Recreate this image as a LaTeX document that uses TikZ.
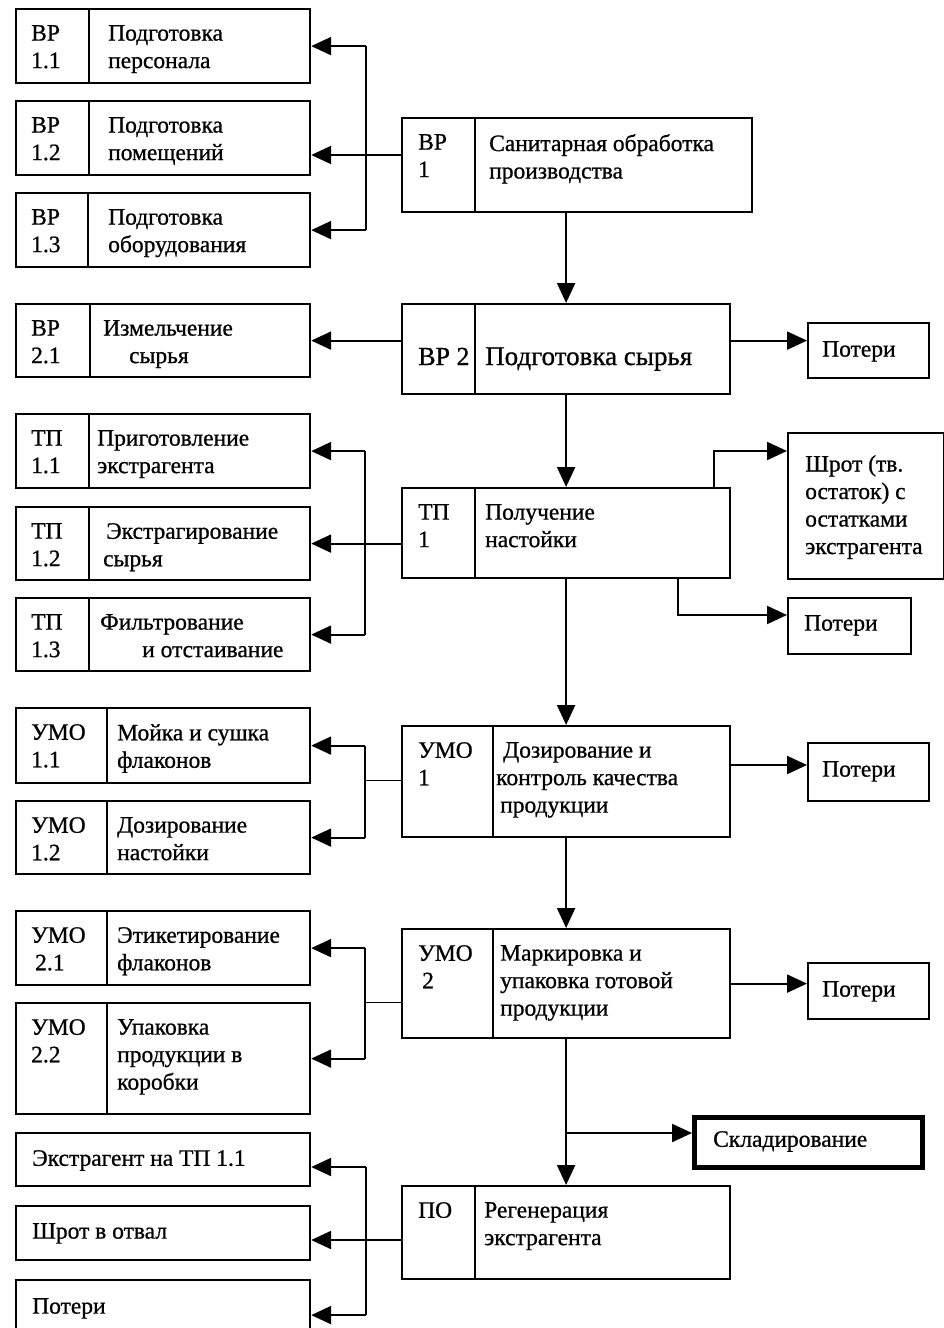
\documentclass[tikz,border=0pt]{standalone}
\usepackage{fontspec}
\setmainfont{Liberation Serif}[FakeBold=0.8]
\usetikzlibrary{arrows.meta}

\tikzset{
  blk/.style={draw, line width=2.2pt, inner sep=0pt, anchor=north west},
  sepline/.style={line width=1.6pt},
  txt/.style={inner sep=0pt, anchor=north west, align=left, font=\fontsize{23.5}{27.5}\selectfont},
  arr/.style={line width=2.2pt, -{Triangle[length=20pt,width=18pt]}},
  link/.style={line width=2.2pt},
  thinlink/.style={line width=1pt}
}

\begin{document}
\begin{tikzpicture}[x=1pt, y=-1pt]
\useasboundingbox (0,0) rectangle (944,1328);

% ВР 1 group
\node[blk, minimum width=294, minimum height=74] (bp11) at (15,8) {};
\draw[sepline] ([xshift=74pt]bp11.north west) -- ([xshift=74pt]bp11.south west);
\node[txt] (bp11-c) at (31,25) {ВР\\1.1};
\node[txt] (bp11-t) at (108,25) {Подготовка\\персонала};

\node[blk, minimum width=294, minimum height=74] (bp12) at (15,100) {};
\draw[sepline] ([xshift=74pt]bp12.north west) -- ([xshift=74pt]bp12.south west);
\node[txt] (bp12-c) at (31,117) {ВР\\1.2};
\node[txt] (bp12-t) at (108,117) {Подготовка\\помещений};

\node[blk, minimum width=294, minimum height=74] (bp13) at (15,192) {};
\draw[sepline] ([xshift=73pt]bp13.north west) -- ([xshift=73pt]bp13.south west);
\node[txt] (bp13-c) at (31,209) {ВР\\1.3};
\node[txt] (bp13-t) at (108,209) {Подготовка\\оборудования};

\node[blk, minimum width=350, minimum height=94] (bp1) at (401,117) {};
\draw[sepline] ([xshift=74pt]bp1.north west) -- ([xshift=74pt]bp1.south west);
\node[txt] (bp1-c) at (418,134) {ВР\\1};
\node[txt] (bp1-t) at (489,134) {Санитарная обработка\\производства};

% ВР 2 group
\node[blk, minimum width=294, minimum height=73] (bp21) at (15,303) {};
\draw[sepline] ([xshift=75pt]bp21.north west) -- ([xshift=75pt]bp21.south west);
\node[txt] (bp21-c) at (31,320) {ВР\\2.1};
\node[txt] (bp21-t) at (103,320) {Измельчение\\\hspace*{26pt}сырья};

\node[blk, minimum width=328, minimum height=90] (bp2) at (401,303) {};
\draw[sepline] ([xshift=74pt]bp2.north west) -- ([xshift=74pt]bp2.south west);
\node[txt, anchor=base west, font=\fontsize{26}{30}\selectfont] (bp2-c) at (418,365) {ВР 2};
\node[txt, anchor=base west, font=\fontsize{27}{30}\selectfont] (bp2-t) at (485,365) {Подготовка сырья};

\node[blk, minimum width=121, minimum height=55] (los2) at (807,322) {};
\node[txt] (los2-t) at (822,341) {Потери};

% ТП 1 group
\node[blk, minimum width=294, minimum height=74] (tp11) at (15,413) {};
\draw[sepline] ([xshift=74pt]tp11.north west) -- ([xshift=74pt]tp11.south west);
\node[txt] (tp11-c) at (31,430) {ТП\\1.1};
\node[txt] (tp11-t) at (97,430) {Приготовление\\экстрагента};

\node[blk, minimum width=294, minimum height=73] (tp12) at (15,506) {};
\draw[sepline] ([xshift=74pt]tp12.north west) -- ([xshift=74pt]tp12.south west);
\node[txt] (tp12-c) at (31,523) {ТП\\1.2};
\node[txt] (tp12-t) at (103,523) {\hspace*{3pt}Экстрагирование\\сырья};

\node[blk, minimum width=294, minimum height=73] (tp13) at (15,597) {};
\draw[sepline] ([xshift=74pt]tp13.north west) -- ([xshift=74pt]tp13.south west);
\node[txt] (tp13-c) at (31,614) {ТП\\1.3};
\node[txt] (tp13-t) at (100,614) {Фильтрование\\\hspace*{42pt}и отстаивание};

\node[blk, minimum width=328, minimum height=90] (tp1) at (401,487) {};
\draw[sepline] ([xshift=74pt]tp1.north west) -- ([xshift=74pt]tp1.south west);
\node[txt] (tp1-c) at (418,504) {ТП\\1};
\node[txt] (tp1-t) at (485,504) {Получение\\настойки};

\node[blk, minimum width=156, minimum height=146] (shrot) at (787,432) {};
\node[txt] (shrot-t) at (805,455) {Шрот (тв.\\остаток) с\\остатками\\экстрагента};

\node[blk, minimum width=123, minimum height=56] (los1) at (787,597) {};
\node[txt] (los1-t) at (804,615) {Потери};

% УМО 1 group
\node[blk, minimum width=294, minimum height=75] (umo11) at (15,707) {};
\draw[sepline] ([xshift=92pt]umo11.north west) -- ([xshift=92pt]umo11.south west);
\node[txt] (umo11-c) at (31,724) {УМО\\1.1};
\node[txt] (umo11-t) at (117,724) {Мойка и сушка\\флаконов};

\node[blk, minimum width=294, minimum height=73] (umo12) at (15,800) {};
\draw[sepline] ([xshift=92pt]umo12.north west) -- ([xshift=92pt]umo12.south west);
\node[txt] (umo12-c) at (31,817) {УМО\\1.2};
\node[txt] (umo12-t) at (117,817) {Дозирование\\настойки};

\node[blk, minimum width=328, minimum height=111] (umo1) at (401,725) {};
\draw[sepline] ([xshift=92pt]umo1.north west) -- ([xshift=92pt]umo1.south west);
\node[txt] (umo1-c) at (418,742) {УМО\\1};
\node[txt] (umo1-t) at (496,742) {\hspace*{7pt}Дозирование и\\контроль качества\\\hspace*{4pt}продукции};

\node[blk, minimum width=121, minimum height=58] (los3) at (807,742) {};
\node[txt] (los3-t) at (822,761) {Потери};

% УМО 2 group
\node[blk, minimum width=294, minimum height=74] (umo21) at (15,910) {};
\draw[sepline] ([xshift=92pt]umo21.north west) -- ([xshift=92pt]umo21.south west);
\node[txt] (umo21-c) at (31,927) {УМО\\\hspace*{4pt}2.1};
\node[txt] (umo21-t) at (117,927) {Этикетирование\\флаконов};

\node[blk, minimum width=294, minimum height=111] (umo22) at (15,1002) {};
\draw[sepline] ([xshift=92pt]umo22.north west) -- ([xshift=92pt]umo22.south west);
\node[txt] (umo22-c) at (31,1019) {УМО\\2.2};
\node[txt] (umo22-t) at (117,1019) {Упаковка\\продукции в\\коробки};

\node[blk, minimum width=328, minimum height=109] (umo2) at (401,928) {};
\draw[sepline] ([xshift=92pt]umo2.north west) -- ([xshift=92pt]umo2.south west);
\node[txt] (umo2-c) at (418,945) {УМО\\\hspace*{4pt}2};
\node[txt] (umo2-t) at (500,945) {Маркировка и\\упаковка готовой\\продукции};

\node[blk, minimum width=121, minimum height=56] (los4) at (807,962) {};
\node[txt] (los4-t) at (822,981) {Потери};

% storage
\node[blk, line width=5pt, minimum width=228, minimum height=50] (sklad) at (692,1115) {};
\node[txt] (sklad-t) at (713,1131) {Складирование};

% ПО group
\node[blk, minimum width=294, minimum height=53] (ext) at (15,1132) {};
\node[txt] (ext-t) at (32,1150) {Экстрагент на ТП 1.1};

\node[blk, minimum width=294, minimum height=54] (shr) at (15,1205) {};
\node[txt] (shr-t) at (32,1223) {Шрот в отвал};

\node[blk, minimum width=294, minimum height=70] (pot) at (15,1279) {};
\node[txt] (pot-t) at (32,1298) {Потери};

\node[blk, minimum width=328, minimum height=93] (po) at (401,1185) {};
\draw[sepline] ([xshift=74pt]po.north west) -- ([xshift=74pt]po.south west);
\node[txt] (po-c) at (418,1202) {ПО};
\node[txt] (po-t) at (484,1202) {Регенерация\\экстрагента};

% bus points
\coordinate (b1) at (366,155);
\coordinate (b2) at (365,542);
\coordinate (b3) at (365,780);
\coordinate (b4) at (365,1002);
\coordinate (b5) at (366,1240);
\coordinate (e1) at (366,1167);
\coordinate (s1) at (714,451);
\coordinate (s2) at (678,615);
\coordinate (s3) at (567,1133);
\coordinate (r3) at (770,765);

% ВР 1
\draw[arr] (bp1.west |- b1) -- (bp12.east |- b1);
\draw[link] (b1 |- bp11.east) -- (b1 |- bp13.east);
\draw[arr] (b1 |- bp11.east) -- (bp11.east);
\draw[arr] (b1 |- bp13.east) -- (bp13.east);
\draw[arr] (bp1.south -| bp2.north) -- (bp2.north);

% ВР 2
\draw[arr] (bp2.west |- bp21.east) -- (bp21.east);
\draw[arr] (bp2.east |- bp21.east) -- (los2.west |- bp21.east);
\draw[arr] (bp2.south) -- (tp1.north);

% ТП 1
\draw[arr] (tp1.west |- tp12.east) -- (tp12.east);
\draw[link] (b2 |- tp11.east) -- (b2 |- tp13.east);
\draw[arr] (b2 |- tp11.east) -- (tp11.east);
\draw[arr] (b2 |- tp13.east) -- (tp13.east);
\draw[arr] (tp1.north -| s1) |- (shrot.west |- s1);
\draw[arr] (tp1.south -| s2) |- (los1.west |- s2);
\draw[arr] (tp1.south) -- (umo1.north);

% УМО 1
\draw[thinlink] (umo1.west |- b3) -- (b3);
\draw[link] (b3 |- umo11.east) -- (b3 |- umo12.east);
\draw[arr] (b3 |- umo11.east) -- (umo11.east);
\draw[arr] (b3 |- umo12.east) -- (umo12.east);
\draw[arr] (umo1.east |- r3) -- (los3.west |- r3);
\draw[arr] (umo1.south) -- (umo2.north);

% УМО 2
\draw[thinlink] (umo2.west |- b4) -- (b4);
\draw[link] (b4 |- umo21.east) -- (b4 |- umo22.east);
\draw[arr] (b4 |- umo21.east) -- (umo21.east);
\draw[arr] (b4 |- umo22.east) -- (umo22.east);
\draw[arr] (umo2.east) -- (los4.west |- umo2.east);
\draw[arr] (umo2.south) -- (po.north);
\draw[arr] (s3) -- (sklad.west |- s3);

% ПО
\draw[arr] (po.west |- b5) -- (shr.east |- b5);
\draw[link] (e1) -- (b5 |- pot.east);
\draw[arr] (e1) -- (ext.east |- e1);
\draw[arr] (b5 |- pot.east) -- (pot.east);
\end{tikzpicture}
\end{document}
